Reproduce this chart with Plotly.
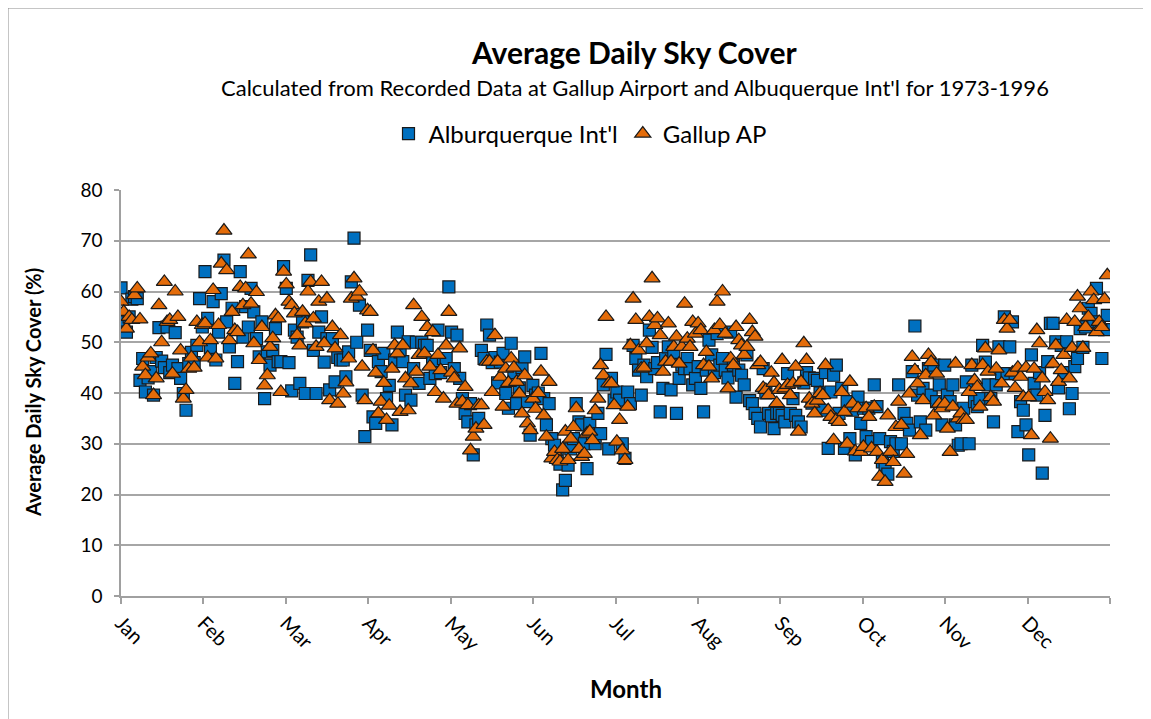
import plotly.graph_objects as go

# Day-of-year average sky cover (%)
albuquerque = (
    # Jan
    [60.7, 54, 52, 55, 58.5, 59, 58.6, 42.5, 46.8, 40.2, 43, 44.2, 39.6, 47, 52.9, 46.3, 45, 53, 44, 45.5,
     51.9, 44.8, 42.9, 39.9, 36.6, 45.8, 48, 46, 49.4, 58.6, 53]
    # Feb
    + [63.9, 54.7, 49, 58, 46.5, 52, 59.6, 66.2, 54, 49.1, 56.7, 41.9, 46.2, 63.9, 51, 57, 53, 60.6, 56, 50.7,
       47.1, 54, 38.9, 48.1, 45.5, 48.4, 52.7, 46.2]
    # Mar
    + [46.2, 64.9, 60.6, 46, 40.4, 52.4, 51, 41.9, 54, 39.9, 62.2, 67.2, 48.4, 39.9, 52, 55, 46.1, 50.7, 40.6, 50.7,
       42.2, 47, 46.5, 46.5, 43.2, 48.1, 61.9, 70.5, 50, 57.3, 39.6]
    # Apr
    + [31.4, 52.4, 48.4, 35.3, 34, 46.2, 44.2, 47.8, 38.9, 41.5, 33.7, 46.5, 52, 48.1, 46.2, 39.6, 50.1, 38.6, 44.8, 50,
       41.9, 50, 49.4, 49.4, 42.9, 46.2, 43.8, 52.4, 44, 46.8]
    # May
    + [46.8, 60.9, 52, 44.8, 51.4, 42.9, 38.9, 36, 34.3, 37.9, 27.8, 33.7, 35, 48.4, 46.8, 53.4, 51.4, 46, 47, 42,
       46.1, 47.8, 39.9, 37, 49.8, 44, 37.9, 41, 45, 47.1, 38.3]
    # Jun
    + [31.7, 41.5, 39.6, 40, 47.8, 38.9, 33.7, 37.9, 31, 29.7, 27.8, 26, 20.9, 22.8, 25.8, 29, 31, 37.9, 34.3, 33.7,
       30, 25.1, 34, 32, 30, 36, 32, 41.6, 47.6, 29]
    # Jul
    + [42.9, 38.6, 40.2, 38.6, 30, 27.1, 40.2, 37.9, 49.4, 46.8, 44.5, 39.6, 45.5, 43.2, 52.4, 49, 44.8, 46, 36.3, 40.9,
       46.8, 49.1, 40.6, 48, 36, 42.9, 45.5, 44.8, 46.8, 44.8, 41.6]
    # Aug
    + [42.9, 45.2, 40.9, 36.3, 44.5, 50.4, 47.5, 44, 51.7, 45.5, 46.8, 44.5, 43, 52, 45.5, 39.2, 44.5, 43.5, 41.6, 47.5,
       38.5, 37.9, 36, 35, 33.3, 44.8, 40, 36, 35.5, 33, 36]
    # Sep
    + [36, 35.6, 34.3, 43.8, 36, 38.9, 35.6, 34.3, 33.3, 42, 44, 43, 38, 42.9, 42.5, 40, 36.6, 44, 29.1, 40.2,
       43.5, 45.5, 36, 40.9, 29.1, 38.3, 31, 36.6, 27.8, 39.2]
    # Oct
    + [34, 37, 31.4, 37, 30.4, 41.6, 37.3, 31, 26.4, 25.1, 24, 30.4, 28.5, 30, 41.6, 30, 36, 34, 32.7, 44.2,
       53.2, 39.6, 34.3, 40.9, 32.7, 44.8, 39.6, 45.5, 38.3, 41.6, 33.7]
    # Nov
    + [45.5, 39.6, 38.3, 41.6, 33.7, 29.7, 30, 37, 42.2, 30, 45.5, 38.3, 37.3, 38.9, 49.4, 46.1, 41.6, 38.9, 34.3, 41.6,
       49.1, 43.8, 55, 43.8, 49.1, 54, 43.8, 32.4, 38.3, 36.6]
    # Dec
    + [33.7, 27.8, 47.5, 41.9, 39.6, 44, 24.2, 35.6, 46.2, 53.7, 53.7, 50.1, 41, 49.4, 44, 50.1, 36.9, 39.9, 45.2, 46.8,
       52.7, 49, 53, 56.7, 55.7, 54, 60.6, 53, 46.8, 52.5, 55.3]
)

gallup = (
    # Jan
    [58, 56, 52.7, 55, 54.4, 59.3, 60.6, 54.5, 45.2, 43.5, 47, 47.8, 39.6, 42.9, 57.3, 50, 61.9, 54, 54.4, 43.8,
     60, 55, 48.4, 38.9, 40.6, 44.8, 47, 45, 54, 50, 53.4]
    # Feb
    + [53.7, 47, 50.4, 60.3, 46.8, 53.4, 65.5, 72, 64.2, 50.4, 56, 52.4, 52, 60.9, 57.3, 60.6, 67.3, 57.6, 49.8, 59.9,
       46.5, 53, 41.5, 43.5, 49.1, 50.8, 55.3, 54.7]
    # Mar
    + [40.2, 63.9, 61.4, 58, 57.3, 55.7, 51.4, 49.4, 56, 53.7, 60, 61.9, 54.7, 49.1, 58, 61.9, 49.8, 58.6, 38.6, 53,
       48.8, 37.9, 51.4, 39.9, 42.1, 46.8, 58.6, 62.6, 59, 60, 45.2]
    # Apr
    + [38.6, 56.3, 56, 48.4, 44, 36, 38.3, 42, 34.7, 37.5, 44.8, 49.4, 47.8, 36.3, 49.4, 42.9, 36.6, 41.9, 57.3, 44.2,
       47.5, 55, 47.8, 53, 45.2, 52, 40.2, 47.5, 44.5, 38.9]
    # May
    + [49.4, 56, 44, 42.9, 37.9, 48.8, 38.3, 41.2, 37.6, 28.7, 31.4, 33, 37.6, 37.6, 33.7, 46.2, 46.2, 40.2, 51.4, 46.2,
       43.2, 37.3, 44.8, 42, 46.8, 45, 42.2, 39.9, 36, 43.5, 34]
    # Jun
    + [32.7, 38.9, 36.9, 40, 44.2, 35.6, 31.4, 42.2, 27.1, 28.4, 26.8, 26.5, 29, 32.4, 26.8, 31, 33.3, 37, 29, 27.4,
       28, 32, 32.4, 30.7, 36.6, 38.9, 45.5, 43.5, 55, 41.9]
    # Jul
    + [41.9, 37.6, 30.4, 34.7, 28.7, 26.8, 37.3, 49.4, 58.6, 54.4, 48.4, 44.8, 45, 49.8, 55, 62.6, 53.4, 54.7, 51.4, 44.2,
       46.2, 53.7, 46.2, 49.1, 51.1, 45.8, 49.1, 57.6, 50.7, 49.1, 54]
    # Aug
    + [51.7, 53.7, 52.4, 45.5, 48.1, 45.2, 42.9, 52.4, 58, 53.4, 60, 51.7, 40.9, 46.8, 45.5, 53, 50.4, 49.4, 47.5, 49.1,
       54.4, 52, 51.1, 45.5, 46.1, 41, 40.6, 39.6, 44, 42, 38]
    # Sep
    + [40.6, 46.5, 40.9, 41.6, 39.6, 41.9, 45.2, 32.4, 42.2, 49.8, 46.5, 38.9, 37.9, 36, 38.5, 40, 39.6, 45.5, 36.6, 35.3,
       30.7, 34.7, 34.3, 40.2, 36.3, 30, 42.2, 37.9, 28.5, 37]
    # Oct
    + [28.4, 29.4, 37, 35.3, 29.1, 37.3, 28.4, 23.5, 26.8, 22.5, 35.6, 28.4, 26.4, 33.3, 38.3, 33.7, 24.1, 28, 39.9, 47.1,
       44.5, 41.9, 31.7, 38.6, 43.5, 47.5, 46.1, 35.6, 43.8, 37.9, 37]
    # Nov
    + [37.9, 33, 28.4, 37.3, 45.8, 35, 36, 34.7, 34.7, 40.2, 45.5, 42.5, 41.2, 37.3, 45.5, 48.8, 44.2, 39.2, 38.3, 44.8,
       48.4, 41.9, 54.4, 52.7, 54.4, 44, 41, 45, 43.2, 39.2]
    # Dec
    + [45, 39.2, 31.7, 44.8, 52.4, 49.8, 42.9, 40.2, 38.6, 31, 45.8, 49.4, 42.2, 44.5, 47.5, 54.4, 42.9, 48.9, 54, 59,
       56.7, 48.9, 53, 55, 60, 58.3, 52, 54, 53, 58.5, 63.2]
)

month_labels = ["Jan", "Feb", "Mar", "Apr", "May", "Jun", "Jul", "Aug", "Sep", "Oct", "Nov", "Dec", ""]
days = list(range(len(albuquerque)))

FONT = "Lato"
W, H = 1151, 719
OFF = 8  # page body margin
# plot area in figure pixels
L, R, T, B = 121 - OFF, 1110 - OFF, 190 - OFF, 596 - OFF


def px(x):  # screenshot x -> paper x
    return (x - OFF - L) / (R - L)


def py(y):  # screenshot y -> paper y
    return (B - (y - OFF)) / (B - T)


fig = go.Figure()
fig.add_trace(go.Scatter(
    x=days, y=albuquerque, mode="markers", name="Alburquerque Int'l",
    marker=dict(symbol="square", size=12, color="#0070C0", line=dict(color="#1a1a1a", width=1.2)),
))
fig.add_trace(go.Scatter(
    x=days, y=gallup, mode="markers", name="Gallup AP",
    marker=dict(symbol="triangle-up", size=14, color="#E46C0A", line=dict(color="#1a1a1a", width=1.2)),
))

tickvals = [i * 365 / 12 for i in range(13)]

fig.update_layout(
    width=W, height=H,
    margin=dict(l=L, r=W - R, t=T, b=H - B, pad=0),
    paper_bgcolor="white", plot_bgcolor="white",
    font=dict(family=FONT, color="#000000", size=18),
    showlegend=True,
    legend=dict(orientation="h", x=px(580), y=py(134), xanchor="center", yanchor="middle",
                font=dict(family=FONT, size=24), itemwidth=30, tracegroupgap=0,
                bgcolor="rgba(0,0,0,0)"),
    xaxis=dict(range=[0, 365], tickmode="array", tickvals=tickvals, ticktext=month_labels,
               tickangle=45, showgrid=False, zeroline=False, showline=True, linecolor="#A0A0A0",
               linewidth=1.5, ticks="outside", ticklen=6, tickcolor="#A0A0A0", tickwidth=1.5,
               tickfont=dict(family=FONT, size=20)),
    yaxis=dict(range=[0, 80], dtick=10, showgrid=True, gridcolor="#A6A6A6", gridwidth=1.5,
               zeroline=False, showline=True, linecolor="#A0A0A0", linewidth=1.5,
               ticks="outside", ticklen=5, tickcolor="#A0A0A0", tickwidth=1.5,
               ticklabelstandoff=8, tickfont=dict(family=FONT, size=19)),
    annotations=[
        dict(text="<b>Average Daily Sky Cover</b>", x=px(634), y=py(52), xref="paper", yref="paper",
             showarrow=False, xanchor="center", yanchor="middle", font=dict(family=FONT, size=30)),
        dict(text="Calculated from Recorded Data at Gallup Airport and Albuquerque Int'l for 1973-1996",
             x=px(635), y=py(88), xref="paper", yref="paper", showarrow=False,
             xanchor="center", yanchor="middle", font=dict(family=FONT, size=22)),
        dict(text="<b>Month</b>", x=px(626), y=py(688), xref="paper", yref="paper", showarrow=False,
             xanchor="center", yanchor="middle", font=dict(family=FONT, size=24)),
        dict(text="<b>Average Daily Sky Cover (%)</b>", x=px(33), y=py(393), xref="paper", yref="paper",
             showarrow=False, textangle=-90, xanchor="center", yanchor="middle",
             font=dict(family=FONT, size=20)),
    ],
    shapes=[
        dict(type="rect", xref="paper", yref="paper", x0=px(8), x1=px(8 + W - 1), y0=py(8 + H - 1), y1=py(8),
             line=dict(color="#8C8C8C", width=1), fillcolor="rgba(0,0,0,0)", layer="below"),
    ],
)

fig.write_html("out.html")
